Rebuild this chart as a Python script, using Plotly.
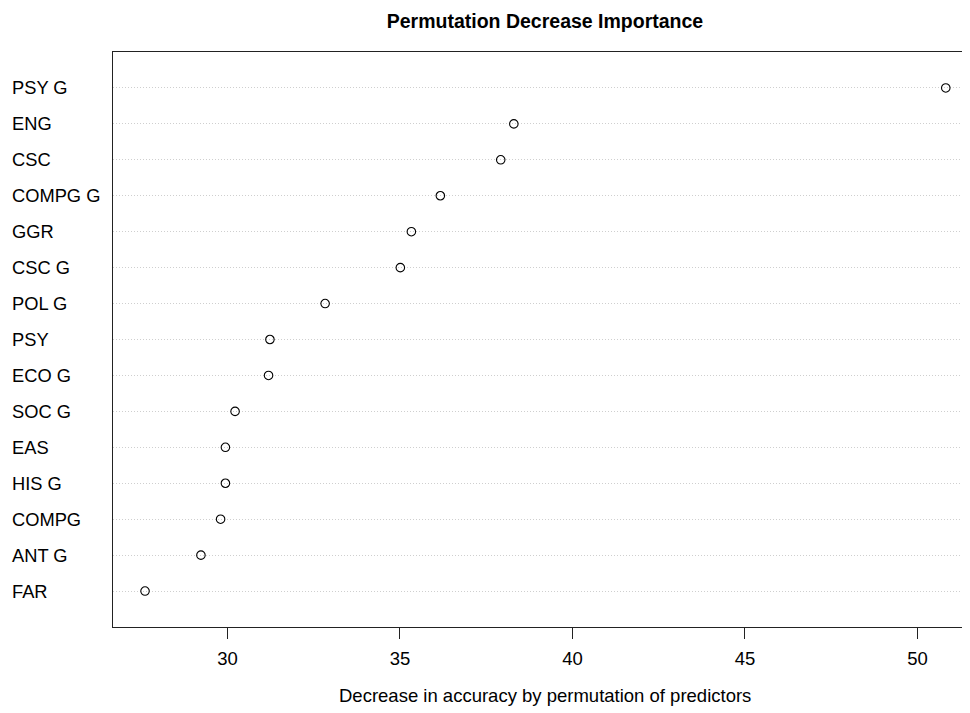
import plotly.graph_objects as go

# Data (top to bottom as shown)
labels = ["PSY G", "ENG", "CSC", "COMPG G", "GGR", "CSC G", "POL G", "PSY",
          "ECO G", "SOC G", "EAS", "HIS G", "COMPG", "ANT G", "FAR"]
values = [50.82, 38.30, 37.92, 36.17, 35.33, 35.01, 32.83, 31.23,
          31.19, 30.22, 29.94, 29.94, 29.80, 29.23, 27.61]
x_ticks = [30, 35, 40, 45, 50]

n = len(labels)
rows = [n - i for i in range(n)]  # top item gets highest row

OFF = 8  # page body margin
W, H = 970, 713 - OFF   # plot box runs past the right edge of the window, as in the reference
ml, mr, mt = 113 - OFF, 0, 52 - OFF
mb = H - (627 - OFF)
plot_w = W - ml - mr
plot_h = H - mt - mb

vmin, vmax = min(values), max(values)
ext = 0.04 * (vmax - vmin)
x0 = vmin - ext
scale = 34.5  # px per unit
x1 = x0 + plot_w / scale

fig = go.Figure()
fig.add_trace(go.Scatter(
    x=values, y=rows, mode="markers",
    marker=dict(symbol="circle-open", size=8.5, color="black",
                line=dict(width=1.1, color="black")),
    hoverinfo="x+y", showlegend=False, cliponaxis=False,
))

font = "Liberation Sans, Arial, Helvetica, sans-serif"
lab_x = ((12 - OFF - 2) - ml) / plot_w
for lab, r in zip(labels, rows):
    fig.add_annotation(x=lab_x, xref="paper", y=r, yref="y", text=lab,
                       showarrow=False, xanchor="left", yanchor="middle",
                       font=dict(family=font, size=18.3, color="black"))

# x-axis title as a paper annotation for exact placement
fig.add_annotation(x=(545 - 113) / plot_w, xref="paper",
                   y=-(695 - 627) / plot_h, yref="paper",
                   text="Decrease in accuracy by permutation of predictors",
                   showarrow=False, xanchor="center", yanchor="middle",
                   font=dict(family=font, size=18.5, color="black"))

fig.update_layout(
    width=W, height=H,
    margin=dict(l=ml, r=mr, t=mt, b=mb),
    paper_bgcolor="white", plot_bgcolor="white",
    title=dict(text="<b>Permutation Decrease Importance</b>",
               x=((545 - OFF) / W), xanchor="center", y=1 - (21 - OFF) / H,
               yanchor="middle",
               font=dict(family=font, size=19.5, color="black")),
    xaxis=dict(range=[x0, x1], tickvals=x_ticks, ticktext=[str(t) for t in x_ticks],
               showgrid=False, zeroline=False,
               showline=True, linecolor="#222", linewidth=1, mirror=True,
               ticks="outside", ticklen=11, tickcolor="#222", tickwidth=1,
               ticklabelstandoff=4,
               tickfont=dict(family=font, size=18.5, color="black")),
    yaxis=dict(range=[0, n + 1], tickvals=rows, showticklabels=False,
               showgrid=True, gridcolor="#cfcfcf", griddash="1px,2px", gridwidth=1,
               zeroline=False, showline=True, linecolor="#222", linewidth=1,
               mirror=False, ticks=""),
)

fig.write_html(
    "out.html",
    config={"displayModeBar": False},
    post_script="document.documentElement.style.overflow='hidden';"
                "document.body.style.overflow='hidden';",
)
